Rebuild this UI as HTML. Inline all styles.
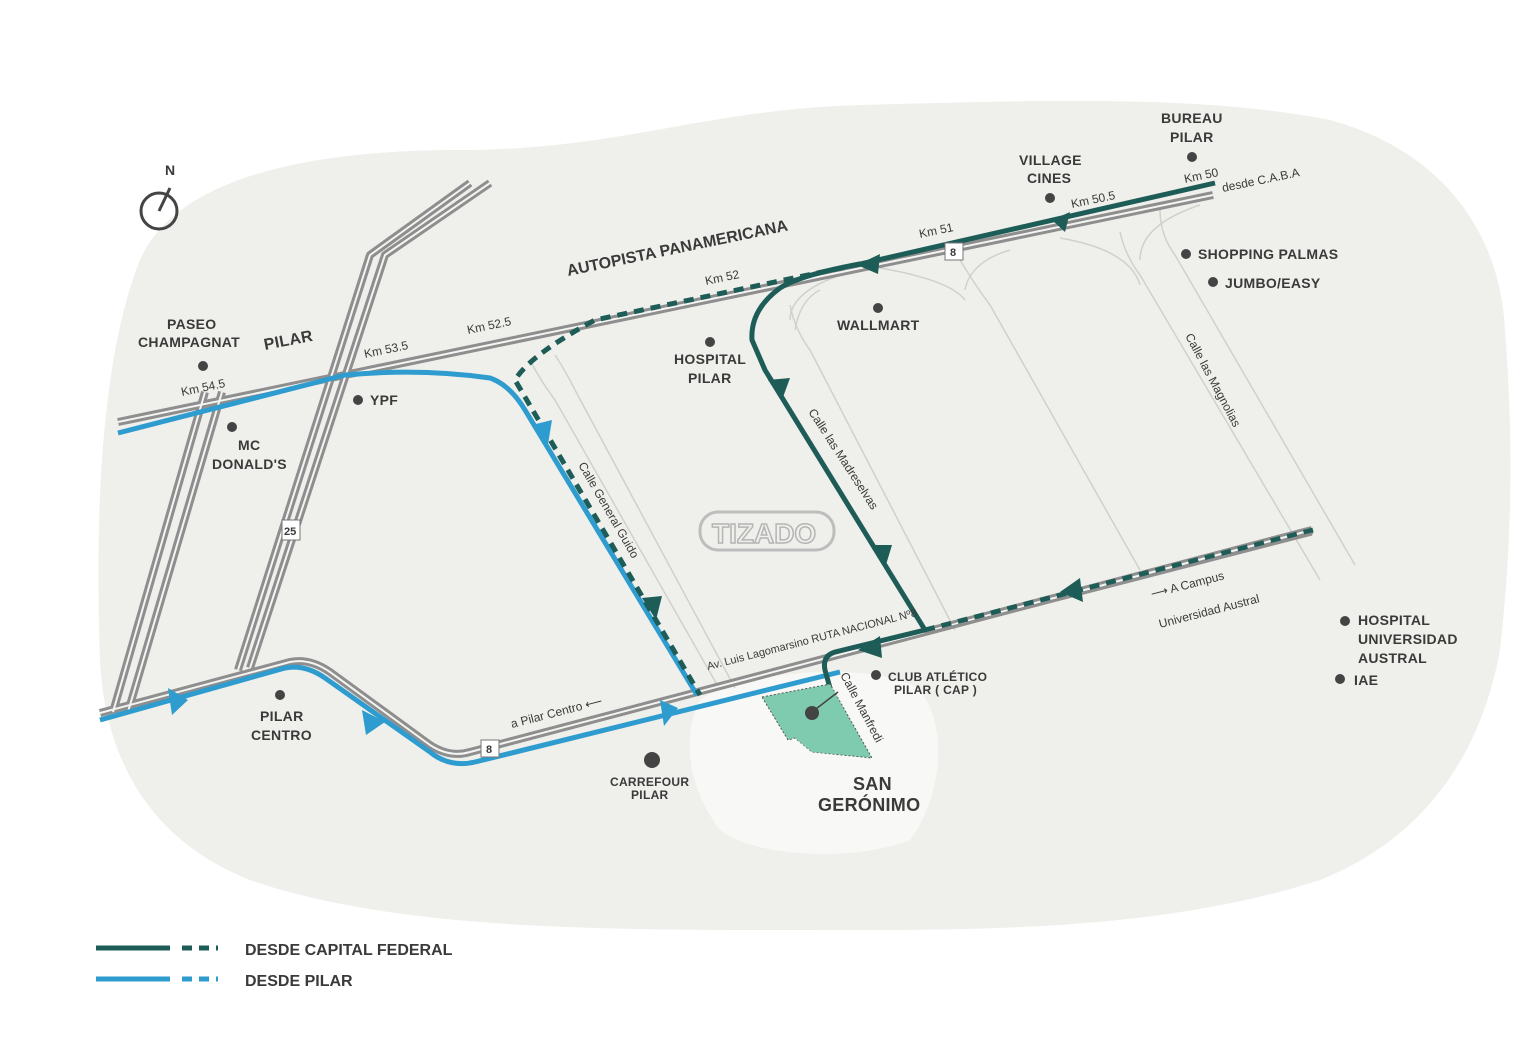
<!DOCTYPE html>
<html><head><meta charset="utf-8"><style>
html,body{margin:0;padding:0;background:#fff;}
svg{display:block;}
text{font-family:"Liberation Sans",sans-serif;fill:#3a3a3a;font-weight:bold;}
.l{font-size:14px;letter-spacing:0.3px;}
.s{font-size:12px;font-weight:normal;}
</style></head><body>
<svg width="1534" height="1060" viewBox="0 0 1534 1060" xmlns="http://www.w3.org/2000/svg">
<path d="M140,260 C180,170 330,150 460,150 C620,150 700,110 860,105 C1050,100 1200,95 1330,120 C1440,150 1500,230 1505,330 C1515,460 1510,560 1500,650 C1480,760 1420,840 1320,880 C1150,935 950,930 760,930 C560,930 380,925 250,880 C150,840 105,760 100,660 C95,520 100,360 140,260 Z" fill="#efefeb"/>
<path d="M700,700 C740,670 880,660 920,690 C950,730 940,800 910,840 C860,860 760,860 720,830 C690,790 680,740 700,700 Z" fill="#f8f8f6"/>

<g stroke="#d0d0cc" stroke-width="1.5" fill="none">
<path d="M530,360 Q540,380 555,400 L720,690"/>
<path d="M555,355 Q565,370 575,390 L735,688"/>
<path d="M790,305 Q795,330 810,350 L955,630"/>
<path d="M820,290 Q800,300 795,330"/>
<path d="M960,260 Q975,285 990,305 L1140,570"/>
<path d="M1120,232 Q1125,255 1140,275 L1320,580"/>
<path d="M1160,210 Q1160,235 1175,255 L1355,565"/>
<path d="M850,272 Q790,290 790,320"/>
<path d="M1010,250 Q970,262 965,290"/>
<path d="M1200,205 Q1140,225 1140,260"/>
<path d="M1060,238 Q1130,250 1140,285"/>
<path d="M880,268 Q950,280 965,300"/>
</g>

<g fill="none" stroke-linejoin="round">
<g stroke="#8e8e8e" stroke-width="8">
<path d="M118,422 L1213,195"/>
<path d="M100,713 L290,662 Q310,658 330,672 L430,745 Q450,758 470,752 L1312,530"/>
<path d="M490,183 L385,255 L250,668"/>
<path d="M470,183 L370,255 L238,670"/>
<path d="M222,392 L128,712"/>
<path d="M205,392 L113,712"/>
</g>
<g stroke="#f4f4f2" stroke-width="2">
<path d="M118,422 L1213,195"/>
<path d="M100,713 L290,662 Q310,658 330,672 L430,745 Q450,758 470,752 L1312,530"/>
<path d="M490,183 L385,255 L250,668"/>
<path d="M470,183 L370,255 L238,670"/>
<path d="M222,392 L128,712"/>
<path d="M205,392 L113,712"/>
</g>
</g>

<g fill="none" stroke="#2e9ccf" stroke-width="5" stroke-linejoin="round">
<path d="M118,433 L345,375 Q420,368 490,378 Q510,385 525,410 L697,695"/>
<path d="M100,720 L285,668 Q305,664 325,678 L430,752 Q450,768 475,762 L840,672"/>
</g>
<g fill="none" stroke="#1d5c57" stroke-width="5" stroke-linejoin="round">
<path d="M1215,183 L860,264 Q800,275 780,288 Q750,310 752,340 L765,370 L885,565 L925,630 L835,652 Q822,656 825,670 L830,688"/>
</g>
<g fill="none" stroke="#1d5c57" stroke-width="5" stroke-dasharray="10,7">
<path d="M860,264 L595,320 Q530,355 515,380 L700,695"/>
<path d="M925,630 L1313,530"/>
</g>
<g fill="none" stroke="#8e8e8e" stroke-width="3"><path d="M925,634 L1312,534"/></g>

<g fill="#1d5c57">
<polygon points="1052,220 1070,212 1065,232" />
<polygon points="857,265 880,254 878,274"/>
<polygon points="768,380 790,378 782,400"/>
<polygon points="870,545 892,545 885,568"/>
<polygon points="858,650 880,636 882,658"/>
<polygon points="1060,592 1080,578 1083,602"/>
<polygon points="642,598 662,596 656,620"/>
</g>
<g fill="#2e9ccf">
<polygon points="532,425 552,420 548,444"/>
<polygon points="168,688 188,700 172,715"/>
<polygon points="362,710 385,722 366,735"/>
<polygon points="660,700 678,708 664,726"/>
</g>

<g>
<rect x="945" y="243" width="18" height="17" fill="#fff" stroke="#777"/><text x="950" y="256" style="font-size:11px">8</text>
<rect x="481" y="740" width="18" height="17" fill="#fff" stroke="#777"/><text x="486" y="753" style="font-size:11px">8</text>
<rect x="282" y="520" width="18" height="20" fill="#fff" stroke="#777"/><text x="284" y="535" style="font-size:11px">25</text>
</g>

<polygon points="762,697 830,684 872,758 812,752 795,738 788,740" fill="#7fcbb0" stroke="#555" stroke-width="1" stroke-dasharray="2,2"/>
<polygon points="795,698 832,688 870,757 812,752 795,738 800,730" fill="#7fcbb0"/>
<line x1="812" y1="712" x2="838" y2="692" stroke="#444" stroke-width="1.5"/>
<circle cx="812" cy="713" r="7" fill="#444"/>

<circle cx="159" cy="211" r="18" fill="none" stroke="#444" stroke-width="3"/>
<line x1="159" y1="211" x2="170" y2="188" stroke="#444" stroke-width="3"/>
<text x="165" y="175" style="font-size:14px">N</text>

<rect x="700" y="512" width="134" height="38" rx="18" fill="none" stroke="#bdbdbd" stroke-width="3"/>
<text x="712" y="543" style="font-size:28px;fill:none;stroke:#b5b5b5;stroke-width:1.5">TIZADO</text>

<g fill="#444">
<circle cx="1192" cy="157" r="5"/><circle cx="1050" cy="198" r="5"/>
<circle cx="1186" cy="254" r="5"/><circle cx="1213" cy="282" r="5"/>
<circle cx="878" cy="308" r="5"/><circle cx="710" cy="342" r="5"/>
<circle cx="203" cy="366" r="5"/><circle cx="358" cy="400" r="5"/>
<circle cx="232" cy="427" r="5"/><circle cx="280" cy="695" r="5"/>
<circle cx="652" cy="760" r="8"/><circle cx="876" cy="675" r="5"/>
<circle cx="1345" cy="621" r="5"/><circle cx="1340" cy="679" r="5"/>
</g>

<g class="l">
<text x="1161" y="123" class="l">BUREAU</text><text x="1170" y="142" class="l">PILAR</text>
<text x="1019" y="165" class="l">VILLAGE</text><text x="1027" y="183" class="l">CINES</text>
<text x="1198" y="259" class="l">SHOPPING PALMAS</text>
<text x="1225" y="288" class="l">JUMBO/EASY</text>
<text x="837" y="330" class="l">WALLMART</text>
<text x="674" y="364" class="l">HOSPITAL</text><text x="688" y="383" class="l">PILAR</text>
<text x="167" y="329" class="l">PASEO</text><text x="138" y="347" class="l">CHAMPAGNAT</text>
<text x="265" y="350" class="l" style="font-size:16px" transform="rotate(-11 265 350)">PILAR</text>
<text x="370" y="405" class="l">YPF</text>
<text x="238" y="450" class="l">MC</text><text x="212" y="469" class="l">DONALD'S</text>
<text x="260" y="721" class="l">PILAR</text><text x="251" y="740" class="l">CENTRO</text>
<text x="610" y="786" style="font-size:12px">CARREFOUR</text><text x="631" y="799" style="font-size:12px">PILAR</text>
<text x="888" y="681" style="font-size:12px">CLUB ATLÉTICO</text><text x="894" y="694" style="font-size:12px">PILAR ( CAP )</text>
<text x="853" y="790" style="font-size:18px">SAN</text><text x="818" y="811" style="font-size:18px">GERÓNIMO</text>
<text x="1358" y="625" class="l">HOSPITAL</text><text x="1358" y="644" class="l">UNIVERSIDAD</text><text x="1358" y="663" class="l">AUSTRAL</text>
<text x="1354" y="685" class="l">IAE</text>
</g>
<text x="568" y="276" style="font-size:16px" transform="rotate(-11.7 568 276)">AUTOPISTA PANAMERICANA</text>
<g>
<text x="1185" y="183" class="s" transform="rotate(-11.7 1185 183)">Km 50</text>
<text x="1223" y="192" class="s" transform="rotate(-11.7 1223 192)">desde C.A.B.A</text>
<text x="1072" y="208" class="s" transform="rotate(-11.7 1072 208)">Km 50.5</text>
<text x="920" y="238" class="s" transform="rotate(-11.7 920 238)">Km 51</text>
<text x="706" y="285" class="s" transform="rotate(-11.7 706 285)">Km 52</text>
<text x="468" y="334" class="s" transform="rotate(-11.7 468 334)">Km 52.5</text>
<text x="365" y="358" class="s" transform="rotate(-11.7 365 358)">Km 53.5</text>
<text x="182" y="396" class="s" transform="rotate(-11.7 182 396)">Km 54.5</text>
<text x="578" y="465" class="s" transform="rotate(60 578 465)">Calle General Guido</text>
<text x="808" y="412" class="s" transform="rotate(57 808 412)">Calle las Madreselvas</text>
<text x="1185" y="336" class="s" transform="rotate(62 1185 336)">Calle las Magnolias</text>
<text x="840" y="675" class="s" transform="rotate(62 840 675)">Calle Manfredi</text>
<text x="708" y="670" class="s" style="font-size:11px" transform="rotate(-14.5 708 670)">Av. Luis Lagomarsino RUTA NACIONAL Nº8</text>
<text x="512" y="728" class="s" transform="rotate(-14.5 512 728)">a Pilar Centro ⟵</text>
<text x="1152" y="598" class="s" transform="rotate(-14.5 1152 598)">⟶ A Campus</text>
<text x="1160" y="628" class="s" transform="rotate(-14.5 1160 628)">Universidad Austral</text>
</g>

<line x1="96" y1="948" x2="170" y2="948" stroke="#1d5c57" stroke-width="5"/>
<line x1="182" y1="948" x2="218" y2="948" stroke="#1d5c57" stroke-width="5" stroke-dasharray="10,7"/>
<text x="245" y="955" style="font-size:16px">DESDE CAPITAL FEDERAL</text>
<line x1="96" y1="979" x2="170" y2="979" stroke="#2e9ccf" stroke-width="5"/>
<line x1="182" y1="979" x2="218" y2="979" stroke="#2e9ccf" stroke-width="5" stroke-dasharray="10,7"/>
<text x="245" y="986" style="font-size:16px">DESDE PILAR</text>
</svg>
</body></html>
